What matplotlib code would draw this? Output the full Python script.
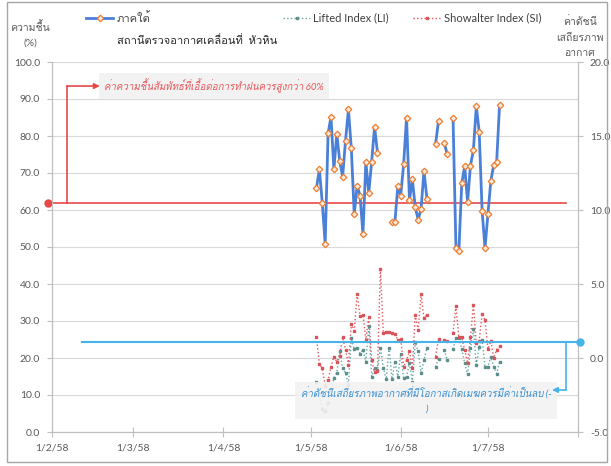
import numpy as np
import pandas as pd
import matplotlib
matplotlib.use('Agg')
import matplotlib.pyplot as plt
from matplotlib import font_manager
from matplotlib.ft2font import FT2Font
from matplotlib.lines import Line2D
from matplotlib.patches import Rectangle

nan = np.nan

# daily values, 3 May 2558 (2015) .. 5 Jul 2558
start_date = '2015-05-03'
humidity = [65.9, 71.0, 62.0, 50.8, 80.7, 85.2, 71.0, 80.6, 73.3, 69.0, 78.7,
            87.2, 76.7, 58.8, 66.6, 63.9, 53.4, 73.0, 64.6, 73.1, 82.5, 75.5,
            nan, nan, nan, nan,
            56.8, 56.8, 66.5, 63.9, 72.4, 85.0, 62.7, 68.3, 60.7, 57.4, 60.3,
            70.6, 63.1,
            nan, nan, 77.9, 84.1, nan, 78.0, 75.1, nan,
            84.8, 49.7, 48.8, 67.2, 71.8, 62.2, 72.0, 76.2, 88.0, 81.2, 59.8,
            49.7, 58.9, 67.8, 72.2, 72.9, 88.3]
lifted_index = [-1.6, -2.4, -3.45, -3.6, -3.05, -2.15, -1.35, -1.0, 0.45, -0.7,
                -1.0, -1.8, 1.35, 0.6, 0.7, 0.3, 0.55, -0.25, 2.15, -1.25,
                -0.7, -0.8,
                0.7, -0.65, -1.45, 0.7, -1.45, -0.25, -1.25, 0.25, -1.35,
                -1.25, -0.35, -1.65, 1.1, 0.45, -1.0, -0.15, 0.7,
                nan, nan, -0.6, -0.05, nan, 0.55, -0.15, nan,
                0.6, 1.35, 1.35, 0.6, -0.35, -1.1, 0.65, 1.95, -0.45, 0.75,
                1.25, -0.6, -0.6, 0.1, -0.6, -1.05, -0.25]
showalter_index = [1.4, -0.4, -0.7, -1.9, -1.5, -0.6, 0.1, -0.25, 0.15, 1.4,
                   0.55, -0.45, 2.3, 1.85, 4.3, 2.85, 2.9, 1.25, 2.8, -0.15,
                   -0.95, -0.85,
                   6.0, 1.7, 1.75, 1.75, 1.7, 1.65, 1.2, 1.3, -0.6, -0.15,
                   0.45, -0.7, 2.9, 1.9, 4.3, 2.7, 2.9,
                   nan, nan, 0.1, 1.3, nan, 1.2, 1.15, nan,
                   1.7, 3.5, 1.4, 1.4, 0.55, -0.35, 1.4, 3.6, 1.0, 1.15, 3.0,
                   2.55, 0.6, 1.15, 0.0, 0.55, 0.8]

month_ticks = ['2015-02-01', '2015-03-01', '2015-04-01', '2015-05-01',
               '2015-06-01', '2015-07-01', '2015-08-01']
month_labels = ['1/2/58', '1/3/58', '1/4/58', '1/5/58', '1/6/58', '1/7/58', '']

humidity_name = 'ภาคใต้'
station_name = 'สถานีตรวจอากาศเคลื่อนที่  หัวหิน'
humidity_limit = 62
stability_limit = 1.1
humidity_note = 'ค่าความชื้นสัมพัทธ์ที่เอื้อต่อการทำฝนควรสูงกว่า 60%'
stability_note = 'ค่าดัชนีเสถียรภาพอากาศที่มีโอกาสเกิดเมฆควรมีค่าเป็นลบ (-\n)'

BLUE = '#4A80D8'
ORANGE = '#ED7D31'
TEAL = '#62A7A8'
RED = '#E8575C'
LINE_RED = '#E84848'
LINE_BLUE = '#45B4E8'
GREY = '#595959'


def find_thai_font():
    for f in font_manager.fontManager.ttflist:
        try:
            if 0x0E01 in FT2Font(f.fname).get_charmap():
                return f.name
        except Exception:
            continue
    return None


thai = find_thai_font()
plt.rcParams['font.family'] = ['Lato'] + ([thai] if thai else []) + ['DejaVu Sans']


def fx(x):
    return x / 611.0


def fy(y):
    return 1 - y / 466.0


dates = pd.date_range(start_date, periods=len(humidity))

fig = plt.figure(figsize=(6.11, 4.66), dpi=100)
ax = fig.add_axes([fx(52), fy(432), 526 / 611.0, 370 / 466.0])
ax2 = ax.twinx()

ax.plot(dates, humidity, color=BLUE, lw=2, marker='D', ms=3.3,
        mfc='#FDEBDD', mec=ORANGE, mew=0.9, zorder=3)
ax2.plot(dates, lifted_index, color=TEAL, lw=1, ls=':', marker='s', ms=2,
         mfc='#5E8E8C', mec='#5E8E8C')
ax2.plot(dates, showalter_index, color=RED, lw=1, ls=':', marker='s', ms=2,
         mfc='#D9545A', mec='#D9545A')

ax.set_xlim(pd.Timestamp(month_ticks[0]), pd.Timestamp(month_ticks[-1]))
ax.set_xticks(pd.to_datetime(month_ticks))
ax.set_xticklabels(month_labels)
ax.set_ylim(0, 100)
ax.set_yticks(np.arange(0, 101, 10))
ax.set_yticklabels(['%.1f' % v for v in np.arange(0, 101, 10)])
ax2.set_ylim(-5, 20)
ax2.set_yticks(np.arange(-5, 21, 5))
ax2.set_yticklabels(['%.1f' % v for v in np.arange(-5, 21, 5)])

ax.yaxis.grid(True, color='#D9D9D9', lw=0.8)
ax.set_axisbelow(True)
for a in (ax, ax2):
    a.spines['top'].set_visible(False)
    for s in ('left', 'right', 'bottom'):
        a.spines[s].set_color('#BFBFBF')
        a.spines[s].set_linewidth(0.8)
ax.tick_params(axis='y', length=3.6, width=0.8, color='#BFBFBF',
               labelcolor=GREY, labelsize=7.5, pad=5)
ax.tick_params(axis='x', direction='inout', length=7, width=0.8,
               color='#BFBFBF', labelcolor=GREY, labelsize=7.5, pad=5)
ax2.tick_params(axis='y', length=3.6, width=0.8, color='#BFBFBF',
                labelcolor=GREY, labelsize=7.5, pad=5)

# humidity threshold with note
ty = ax.get_yaxis_transform()
ax.plot([-0.008, 0.978], [humidity_limit] * 2, color=LINE_RED, lw=1.2,
        transform=ty, clip_on=False, zorder=2)
ax.plot([-0.008], [humidity_limit], 'o', color=LINE_RED, ms=5,
        transform=ty, clip_on=False, zorder=2)
ax.plot([0.0285, 0.0285], [humidity_limit, 93.5], color=LINE_RED, lw=1.2,
        transform=ty, zorder=2)
ax.annotate('', xy=(0.091, 93.5), xytext=(0.0285, 93.5), xycoords=ty,
            arrowprops=dict(arrowstyle='-|>', color=LINE_RED, lw=1.2,
                            shrinkA=0, shrinkB=0, mutation_scale=8))
ax.text(0.099, 93.5, humidity_note, transform=ty, color=RED, style='italic',
        fontsize=7, va='center',
        bbox=dict(boxstyle='square,pad=0.55', fc='#F2F2F2', ec='none'))

# stability threshold with note
ty2 = ax2.get_yaxis_transform()
ax2.text(0.711, -2.84, stability_note, transform=ty2, color='#3A8FD0',
         style='italic', fontsize=7, ha='center', va='center',
         multialignment='center', linespacing=1.7, zorder=4,
         bbox=dict(boxstyle='square,pad=0.55', fc='#F2F2F2', ec='none',
                   alpha=0.9))
ax2.plot([0.057, 1.004], [stability_limit] * 2, color=LINE_BLUE, lw=1.5,
         transform=ty2, clip_on=False, zorder=5)
ax2.plot([1.004], [stability_limit], 'o', color=LINE_BLUE, ms=5,
         transform=ty2, clip_on=False, zorder=5)
ax2.plot([0.977, 0.977], [stability_limit, -2.16], color=LINE_BLUE, lw=1.2,
         transform=ty2, zorder=5)
ax2.annotate('', xy=(0.9506, -2.16), xytext=(0.977, -2.16), xycoords=ty2,
             zorder=6,
             arrowprops=dict(arrowstyle='-|>', color=LINE_BLUE, lw=1.2,
                             shrinkA=0, shrinkB=0, mutation_scale=8))

# axis titles
fig.text(fx(30), fy(34), 'ความชื้น\n(%)', ha='center', va='center',
         color=GREY, fontsize=7.5, linespacing=1.8)
fig.text(fx(580), fy(37), 'ค่าดัชนี\nเสถียรภาพ\nอากาศ', ha='center',
         va='center', color=GREY, fontsize=7.5, linespacing=1.9)

# legend drawn by hand to follow the original layout
fig.add_artist(Line2D([fx(86), fx(99.5), fx(113)], [fy(18)] * 3, color=BLUE,
                      lw=2, marker='D', ms=3.3, markevery=[1], mfc='#FDEBDD',
                      mec=ORANGE, mew=0.9))
fig.text(fx(117), fy(18), humidity_name, va='center', color='#404040',
         fontsize=8)
fig.text(fx(117), fy(40), station_name, va='center', color='#262626',
         fontsize=8)
fig.add_artist(Line2D([fx(283), fx(296.5), fx(310)], [fy(18)] * 3, color=TEAL,
                      lw=1, ls=':', marker='s', ms=2, markevery=[1],
                      mfc='#5E8E8C', mec='#5E8E8C'))
fig.text(fx(313), fy(18), 'Lifted Index (LI)', va='center', color='#404040',
         fontsize=8)
fig.add_artist(Line2D([fx(413), fx(426.5), fx(440)], [fy(18)] * 3, color=RED,
                      lw=1, ls=':', marker='s', ms=2, markevery=[1],
                      mfc='#D9545A', mec='#D9545A'))
fig.text(fx(444), fy(18), 'Showalter Index (SI)', va='center',
         color='#404040', fontsize=8)

fig.patches.append(Rectangle((fx(7), fy(462)), fx(600), 460 / 466.0,
                             transform=fig.transFigure, fill=False,
                             ec='#A6A6A6', lw=1))

fig.savefig('out.png', dpi=100)
